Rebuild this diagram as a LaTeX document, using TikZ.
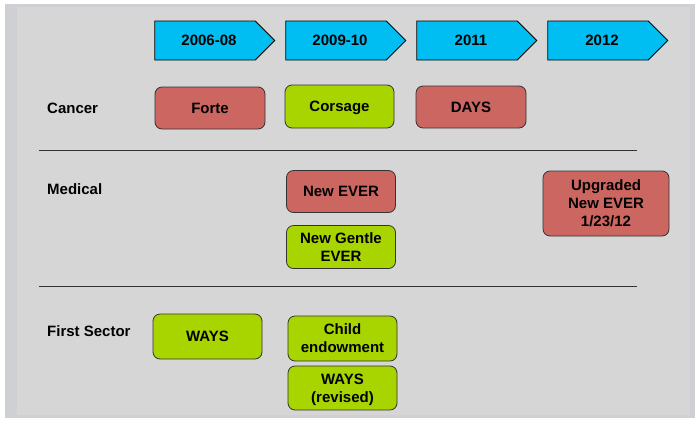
\documentclass[tikz,border=0pt]{standalone}
\usepackage{fontspec}
\setmainfont{Liberation Sans}
\usetikzlibrary{shapes.symbols,positioning}
\definecolor{bgframe}{HTML}{CFD0D3}
\definecolor{bg}{HTML}{D6D6D6}
\definecolor{yearc}{HTML}{00BEF2}
\definecolor{redc}{HTML}{CC6660}
\definecolor{greenc}{HTML}{A8D400}
\definecolor{rulec}{HTML}{333333}

\begin{document}
\begin{tikzpicture}[
  x=1pt, y=-1pt,
  every node/.style={font=\fontsize{15}{18}\selectfont\bfseries},
  year/.style={signal, signal to=east, signal pointer angle=90, draw=black, fill=yearc, line width=0.8pt, minimum width=120, minimum height=39, inner sep=0pt},
  prog/.style={draw=black!80, fill=#1, rounded corners=7pt, line width=0.8pt, minimum width=109, minimum height=43, align=center, inner sep=1pt, text depth=0pt},
  sector/.style={anchor=west, inner sep=0pt},
  sep/.style={draw=rulec, line width=1.2pt},
]
\useasboundingbox (0,0) rectangle (695,421);

% background
\fill[bgframe] (5,4) rectangle (695,418);
\fill[bg] (17,7) rectangle (690,415);

% time line
\node[year] (y1) at (205,40.5) {\hspace*{8pt}2006-08};
\node[year] (y2) at (336,40.5) {\hspace*{8pt}2009-10};
\node[year] (y3) at (467,40.5) {\hspace*{8pt}2011};
\node[year] (y4) at (598,40.5) {\hspace*{8pt}2012};

% sectors
\node[sector] (cancer) at (47,108) {Cancer};
\node[sector] (medical) at (47,189) {Medical};
\node[sector] (first) at (47,331) {First Sector};

\draw[sep] (39,150.7) -- (637,150.7);
\draw[sep] (39,286.7) -- (637,286.7);

% cancer
\node[prog=redc, minimum width=110, minimum height=42] (forte) at (210,108) {Forte};
\node[prog=greenc] (corsage) at (339.5,106.5) {Corsage};
\node[prog=redc, minimum width=110, minimum height=42] (days) at (471,107) {DAYS};

% medical
\node[prog=redc, minimum height=42] (newever) at (341,191.5) {New EVER};
\node[prog=greenc] (gentle) at (341,247) {New Gentle\\EVER};
\node[prog=redc, minimum width=126, minimum height=65] (upgraded) at (606,203.5) {Upgraded\\New EVER\\1/23/12};

% first sector
\node[prog=greenc, minimum height=45] (ways) at (207.5,336.5) {WAYS};
\node[prog=greenc, minimum height=45] (child) at (342.5,338.5) {Child\\endowment};
\node[prog=greenc, minimum height=44] (waysrev) at (342.5,388) {WAYS\\(revised)};

\end{tikzpicture}
\end{document}
